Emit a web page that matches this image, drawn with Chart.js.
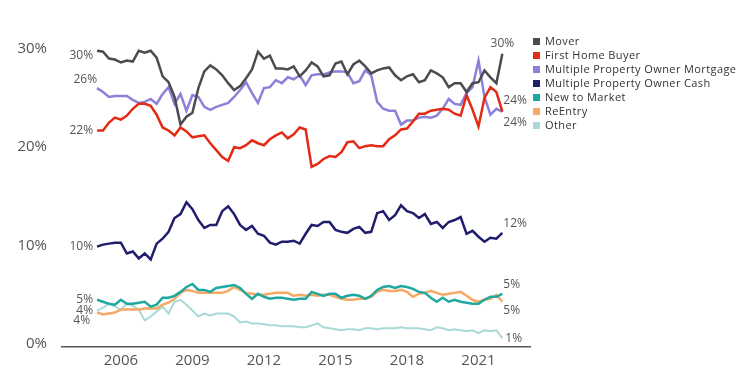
<!DOCTYPE html>
<html>
<head>
<meta charset="utf-8">
<script src="https://cdn.jsdelivr.net/npm/chart.js@4.4.0/dist/chart.umd.min.js"></script>
<style>
  html, body { margin: 0; padding: 0; background: #fff; }
  #wrap { width: 750px; height: 384px; position: relative; font-family: 'Open Sans', sans-serif; }
  #legend { position: absolute; left: 533px; top: 34px; margin: 0; padding: 0; list-style: none; }
  #legend li { height: 14px; line-height: 14px; font-size: 11px; letter-spacing: 0.4px; color: #333; white-space: nowrap; }
  #legend span { display: inline-block; width: 7px; height: 7px; margin-right: 5px; vertical-align: 0; }
</style>
</head>
<body>
<div id="wrap">
  <canvas id="buyerChart"></canvas>
  <ul id="legend"></ul>
</div>
<script>
// quarterly share of buyers (%)
const quarters = [
  '2005 Q1','2005 Q2','2005 Q3','2005 Q4','2006 Q1','2006 Q2','2006 Q3','2006 Q4',
  '2007 Q1','2007 Q2','2007 Q3','2007 Q4','2008 Q1','2008 Q2','2008 Q3','2008 Q4',
  '2009 Q1','2009 Q2','2009 Q3','2009 Q4','2010 Q1','2010 Q2','2010 Q3','2010 Q4',
  '2011 Q1','2011 Q2','2011 Q3','2011 Q4','2012 Q1','2012 Q2','2012 Q3','2012 Q4',
  '2013 Q1','2013 Q2','2013 Q3','2013 Q4','2014 Q1','2014 Q2','2014 Q3','2014 Q4',
  '2015 Q1','2015 Q2','2015 Q3','2015 Q4','2016 Q1','2016 Q2','2016 Q3','2016 Q4',
  '2017 Q1','2017 Q2','2017 Q3','2017 Q4','2018 Q1','2018 Q2','2018 Q3','2018 Q4',
  '2019 Q1','2019 Q2','2019 Q3','2019 Q4','2020 Q1','2020 Q2','2020 Q3','2020 Q4',
  '2021 Q1','2021 Q2','2021 Q3','2021 Q4','2022 Q1'
];

const mover = [30.1,30.0,29.3,29.2,28.9,29.1,29.0,30.1,29.9,30.1,29.4,27.5,26.9,25.4,22.6,23.4,
  23.8,26.3,28.0,28.6,28.2,27.6,26.8,26.1,26.5,27.3,28.2,30.0,29.3,29.6,28.3,28.3,
  28.2,28.5,27.5,28.1,28.9,28.5,27.5,27.6,28.8,29.0,27.7,28.7,29.1,28.5,27.8,28.1,
  28.3,28.4,27.6,27.1,27.5,27.7,26.9,27.1,28.1,27.8,27.4,26.4,26.8,26.8,25.9,26.8,
  26.9,28.1,27.4,26.8,29.8];

const firstHome = [22.0,22.0,22.8,23.3,23.1,23.5,24.2,24.7,24.7,24.5,23.6,22.3,22.0,21.5,22.3,21.9,
  21.3,21.4,21.5,20.7,20.0,19.3,18.9,20.3,20.2,20.5,21.0,20.7,20.5,21.1,21.5,21.8,
  21.2,21.6,22.3,22.1,18.3,18.6,19.1,19.4,19.3,19.8,20.8,20.9,20.2,20.4,20.5,20.4,
  20.4,21.1,21.5,22.1,22.2,22.9,23.7,23.7,24.0,24.1,24.2,24.1,23.7,23.5,25.6,24.1,
  22.4,25.3,26.4,25.9,23.9];

const mpoMortgage = [26.3,25.9,25.4,25.5,25.5,25.5,25.1,24.8,24.9,25.2,24.7,25.7,26.4,24.7,25.7,24.0,
  25.6,25.4,24.4,24.1,24.4,24.6,24.8,25.4,26.1,26.9,25.8,24.8,26.3,26.4,27.1,26.8,
  27.4,27.2,27.6,26.6,27.6,27.7,27.7,27.9,28.0,28.0,27.9,26.8,27.0,28.1,27.6,24.9,
  24.2,24.0,24.0,22.6,23.0,23.0,23.3,23.4,23.3,23.5,24.2,25.2,24.7,24.6,25.8,26.4,
  29.1,25.4,23.6,24.2,23.9];

const mpoCash = [10.2,10.4,10.5,10.6,10.6,9.5,9.7,9.0,9.5,8.9,10.5,11.0,11.7,13.1,13.5,14.7,
  14.0,12.9,12.1,12.4,12.4,13.8,14.3,13.5,12.4,11.9,12.3,11.5,11.3,10.6,10.4,10.7,
  10.7,10.8,10.5,11.5,12.4,12.3,12.7,12.7,11.9,11.7,11.6,12.0,12.2,11.6,11.7,13.6,
  13.8,12.9,13.4,14.4,13.8,13.6,13.1,13.5,12.5,12.7,12.1,12.7,12.9,13.2,11.5,11.8,
  11.2,10.7,11.1,11.0,11.6];

const newToMarket = [4.8,4.6,4.4,4.3,4.8,4.4,4.4,4.5,4.6,4.1,4.3,5.0,5.0,5.2,5.6,6.1,
  6.4,5.8,5.8,5.6,6.0,6.1,6.2,6.3,6.0,5.4,4.9,5.4,5.1,4.9,5.0,5.0,
  4.9,4.8,4.9,4.9,5.6,5.4,5.2,5.4,5.4,5.0,5.2,5.3,5.2,4.9,5.2,5.8,
  6.1,6.2,6.0,6.2,6.1,5.9,5.6,5.5,5.0,4.6,5.0,4.6,4.8,4.6,4.5,4.4,
  4.4,4.8,5.1,5.1,5.4];

const reEntry = [3.5,3.3,3.4,3.5,3.8,3.8,3.8,3.8,3.9,3.9,3.9,4.3,4.5,4.9,5.5,5.8,
  5.7,5.5,5.5,5.5,5.5,5.5,5.7,6.1,5.8,5.5,5.4,5.3,5.3,5.4,5.5,5.5,
  5.5,5.2,5.3,5.2,5.3,5.2,5.3,5.3,5.1,4.9,4.8,4.8,4.9,4.9,5.1,5.6,
  5.8,5.7,5.7,5.8,5.6,5.1,5.4,5.5,5.7,5.5,5.3,5.4,5.5,5.6,5.2,4.8,
  4.6,4.8,4.9,5.3,4.6];

const other = [3.7,4.0,4.4,4.1,3.8,4.4,4.2,3.8,2.7,3.1,3.6,4.1,3.4,4.6,4.8,4.3,
  3.7,3.1,3.4,3.2,3.4,3.4,3.4,3.1,2.5,2.6,2.4,2.4,2.3,2.2,2.2,2.1,
  2.1,2.1,2.0,2.0,2.2,2.4,2.0,1.9,1.8,1.7,1.8,1.8,1.7,1.9,1.9,1.8,
  1.9,1.9,1.9,2.0,1.9,1.9,1.9,1.8,1.7,2.0,1.9,1.7,1.8,1.7,1.6,1.7,
  1.4,1.7,1.6,1.7,0.9];

const seriesNames = ['Mover', 'First Home Buyer', 'Multiple Property Owner Mortgage',
  'Multiple Property Owner Cash', 'New to Market', 'ReEntry', 'Other'];
const seriesValues = [mover, firstHome, mpoMortgage, mpoCash, newToMarket, reEntry, other];
const xTickYears = [2006, 2009, 2012, 2015, 2018, 2021];
const yTickValues = [0, 10, 20, 30];

const colors = ['#4b4b50', '#e42a14', '#8c80d8', '#1f1d6c', '#1ea89f', '#f6a865', '#a9d9d6'];
const widths = [2.5, 2.5, 2.5, 2.5, 2.5, 2.5, 2];
// [dx, dy, align] for the first and last value labels
const labelPos = [
  { start: [-4, 5, 'right'],  end: [0, -10, 'center'] },
  { start: [-4, 0, 'right'],  end: [1, -11, 'left'] },
  { start: [0, -9, 'right'],  end: [1, 11, 'left'] },
  { start: [-4, 0, 'right'],  end: [1, -9, 'left'] },
  { start: [-4, 0, 'right'],  end: [1, -9, 'left'] },
  { start: [-4, -2, 'right'], end: [1, 9, 'left'] },
  { start: [-7, 10, 'right'], end: [3, 0, 'left'] }
];

const toYear = q => +q.slice(0, 4) + (+q.slice(6) - 1) / 4;

Chart.defaults.font.family = "'Open Sans', sans-serif";
Chart.defaults.color = '#555';

const valueLabels = {
  id: 'valueLabels',
  afterDatasetsDraw(chart) {
    const ctx = chart.ctx;
    ctx.save();
    ctx.font = "12px 'Open Sans', sans-serif";
    ctx.fillStyle = '#555';
    ctx.textBaseline = 'middle';
    chart.data.datasets.forEach((ds, i) => {
      const pts = chart.getDatasetMeta(i).data;
      const vals = seriesValues[i];
      const first = pts[0], last = pts[pts.length - 1];
      const s = labelPos[i].start, e = labelPos[i].end;
      ctx.textAlign = s[2];
      ctx.fillText(Math.round(vals[0]) + '%', first.x + s[0], first.y + s[1]);
      ctx.textAlign = e[2];
      ctx.fillText(Math.round(vals[vals.length - 1]) + '%', last.x + e[0], last.y + e[1]);
    });
    ctx.restore();
  }
};

const datasets = seriesNames.map((name, i) => ({
  label: name,
  data: quarters.map((q, j) => ({ x: toYear(q), y: seriesValues[i][j] })),
  borderColor: colors[i],
  backgroundColor: colors[i],
  borderWidth: widths[i],
  pointRadius: 0,
  tension: 0
}));

new Chart(document.getElementById('buyerChart'), {
  type: 'line',
  data: { datasets },
  plugins: [valueLabels],
  options: {
    responsive: true,
    maintainAspectRatio: false,
    animation: false,
    layout: { padding: { top: 32, right: 220, left: 0, bottom: 0 } },
    plugins: {
      tooltip: { enabled: false },
      legend: { display: false }
    },
    scales: {
      x: {
        type: 'linear',
        min: 2003.53,
        max: 2023.16,
        grid: { display: false, drawTicks: false },
        border: { display: true, color: '#555', width: 1.5 },
        ticks: { font: { size: 15 }, color: '#555', padding: 5, callback: v => String(v) },
        afterBuildTicks: s => { s.ticks = xTickYears.map(v => ({ value: v })); },
        afterFit: s => { s.height = 37; }
      },
      y: {
        min: 0,
        max: 32,
        grid: { display: false, drawTicks: false },
        border: { display: false },
        ticks: { font: { size: 15 }, color: '#555', padding: 15, labelOffset: -3, callback: v => v + '%' },
        afterBuildTicks: s => { s.ticks = yTickValues.map(v => ({ value: v })); },
        afterFit: s => { s.width = 62; }
      }
    }
  }
});

// html legend, same order and colours as the datasets
document.getElementById('legend').innerHTML = seriesNames
  .map((name, i) => `<li><span style="background:${colors[i]}"></span>${name}</li>`)
  .join('');
</script>
</body>
</html>
